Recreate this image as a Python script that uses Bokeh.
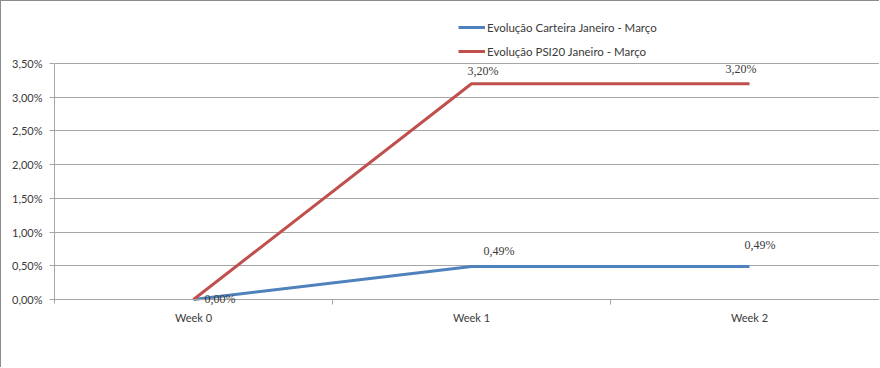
from bokeh.plotting import figure
from bokeh.models import (ColumnDataSource, Range1d, FixedTicker, LabelSet, Legend, LegendItem)
from bokeh.embed import file_html
from bokeh.resources import INLINE

# ---- data ----
weeks = ["Week 0", "Week 1", "Week 2"]
carteira = [0.0, 0.0049, 0.0049]
psi20 = [0.0, 0.032, 0.032]
series_names = ["Evolução Carteira Janeiro - Março", "Evolução PSI20 Janeiro - Março"]
y_ticks = [0.0, 0.005, 0.01, 0.015, 0.02, 0.025, 0.03, 0.035]
y_tick_labels = ["0,00%", "0,50%", "1,00%", "1,50%", "2,00%", "2,50%", "3,00%", "3,50%"]


def pct(v):
    return ("%.2f%%" % (v * 100)).replace(".", ",")


# ---- style / layout ----
FONT = "Lato"
BLUE = "#4F81BD"
RED = "#C0504D"
GRID = "#A6A6A6"
TXT = "#3a3a3a"
B = 1              # outer chart border (left / top)
W, H = 880 - B, 368 - B
LEFT = 54 - B
ZERO_Y = 299 - B   # canvas y of 0 %
TOP_Y = 63 - B     # canvas y of 3.5 %
FRAME_BOTTOM = H   # canvas y of frame bottom
PX_PER_UNIT = (ZERO_Y - TOP_Y) / 0.035
CAT_W = 278

xs = list(range(len(weeks)))
x_end = (W - LEFT) / CAT_W - 0.5
y_end = 0.035 + TOP_Y / PX_PER_UNIT
y_start = -(FRAME_BOTTOM - ZERO_Y) / PX_PER_UNIT

p = figure(width=W, height=H, output_backend="svg", toolbar_location=None,
           x_range=Range1d(-0.5, x_end), y_range=Range1d(y_start, y_end),
           min_border_left=LEFT, min_border_top=0, min_border_bottom=0, min_border_right=0,
           styles={"border-left": "1px solid #8c8c8c", "border-top": "1px solid #8c8c8c"})
p.outline_line_color = None
p.background_fill_color = "white"
p.border_fill_color = "white"

src_c = ColumnDataSource(dict(x=xs, y=carteira, t=[pct(v) for v in carteira],
                              dx=[11, 12, -5], dy=[-6, 8, 14]))
src_p = ColumnDataSource(dict(x=xs, y=psi20))
src_p2 = ColumnDataSource(dict(x=xs[1:], y=psi20[1:], t=[pct(v) for v in psi20[1:]],
                               dx=[-4, -24], dy=[6, 8]))

r_c = p.line("x", "y", source=src_c, line_color=BLUE, line_width=3)
r_p = p.line("x", "y", source=src_p, line_color=RED, line_width=3)

for s in (src_c, src_p2):
    p.add_layout(LabelSet(x="x", y="y", text="t", source=s, x_offset="dx", y_offset="dy",
                          text_font=FONT, text_font_size="12px", text_color=TXT,
                          text_align="left", text_baseline="bottom"))

# y axis
p.yaxis.ticker = FixedTicker(ticks=y_ticks)
p.yaxis.bounds = (-0.0006, 0.035)
p.yaxis.major_label_overrides = {t: l for t, l in zip(y_ticks, y_tick_labels)}
p.yaxis.major_label_text_font = FONT
p.yaxis.major_label_text_font_size = "11px"
p.yaxis.major_label_text_color = TXT
p.yaxis.axis_line_color = GRID
p.yaxis.major_tick_line_color = GRID
p.yaxis.major_tick_out = 5
p.yaxis.major_tick_in = 0
p.yaxis.minor_tick_line_color = None
p.yaxis.major_label_standoff = 7

# x axis, drawn at 0 %
p.xaxis.fixed_location = 0
p.xaxis.ticker = FixedTicker(ticks=xs, minor_ticks=[0.5, 1.5])
p.xaxis.major_label_overrides = {i: w for i, w in zip(xs, weeks)}
p.xaxis.major_label_text_font = FONT
p.xaxis.major_label_text_font_size = "11px"
p.xaxis.major_label_text_color = TXT
p.xaxis.axis_line_color = GRID
p.xaxis.major_tick_line_color = None
p.xaxis.major_tick_out = 0
p.xaxis.major_tick_in = 0
p.xaxis.minor_tick_line_color = GRID
p.xaxis.minor_tick_out = 5
p.xaxis.minor_tick_in = 0
p.xaxis.major_label_standoff = 6

p.xgrid.grid_line_color = None
p.ygrid.ticker = FixedTicker(ticks=y_ticks)
p.ygrid.grid_line_color = GRID
p.ygrid.grid_line_width = 1

legend = Legend(items=[LegendItem(label=series_names[0], renderers=[r_c]),
                       LegendItem(label=series_names[1], renderers=[r_p])],
                location=(458 - 54, FRAME_BOTTOM - 58 + B), orientation="vertical",
                label_text_font=FONT, label_text_font_size="11.5px", label_text_color=TXT,
                glyph_width=27, glyph_height=14, label_standoff=2, spacing=10,
                padding=0, margin=0, border_line_color=None, background_fill_alpha=0)
p.add_layout(legend, "center")

open("out.html", "w").write(file_html(p, INLINE))
